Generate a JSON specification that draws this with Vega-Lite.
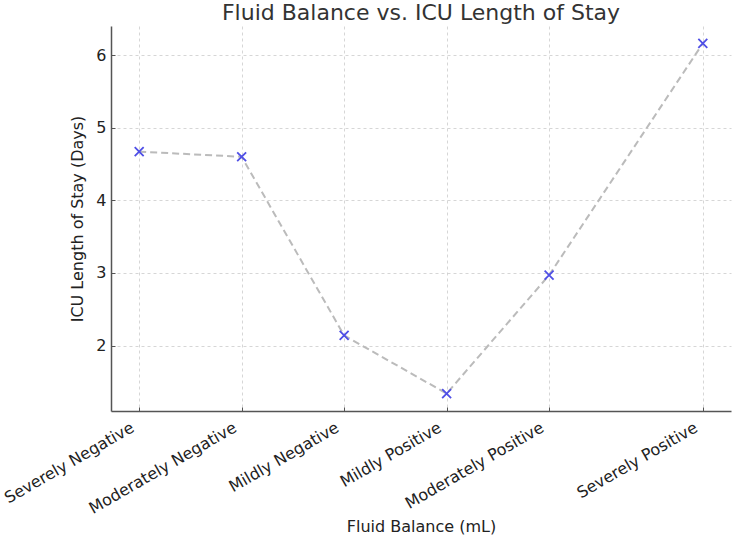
{
  "$schema": "https://vega.github.io/schema/vega-lite/v6.json",
  "width": 620,
  "height": 385,
  "autosize": {"type": "none"},
  "padding": {"left": 111, "top": 26, "right": 1, "bottom": 128},
  "background": "white",
  "config": {
    "view": {"stroke": null},
    "font": "DejaVu Sans",
    "axis": {
      "labelFont": "DejaVu Sans",
      "titleFont": "DejaVu Sans",
      "labelFontSize": 16,
      "titleFontSize": 16,
      "titleFontWeight": "normal",
      "labelColor": "#222222",
      "titleColor": "#222222",
      "domainColor": "#555555",
      "domainWidth": 1.5,
      "tickColor": "#555555",
      "tickWidth": 1,
      "gridColor": "#cccccc",
      "gridDash": [3, 3],
      "gridWidth": 0.8
    }
  },
  "title": {
    "text": "Fluid Balance vs. ICU Length of Stay",
    "font": "DejaVu Sans",
    "fontSize": 22,
    "fontWeight": "normal",
    "color": "#333333",
    "anchor": "middle",
    "offset": 1
  },
  "data": {
    "values": [
      {"category": "Severely Negative", "pos": 0, "los": 4.67},
      {"category": "Moderately Negative", "pos": 1, "los": 4.6},
      {"category": "Mildly Negative", "pos": 2, "los": 2.14},
      {"category": "Mildly Positive", "pos": 3, "los": 1.34},
      {"category": "Moderately Positive", "pos": 4, "los": 2.97},
      {"category": "Severely Positive", "pos": 5.5, "los": 6.16}
    ]
  },
  "encoding": {
    "x": {
      "field": "pos",
      "type": "quantitative",
      "scale": {"domain": [-0.275, 5.775], "nice": false, "zero": false},
      "axis": {
        "title": "Fluid Balance (mL)",
        "values": [0, 1, 2, 3, 4, 5.5],
        "labelExpr": "datum.value == 0 ? 'Severely Negative' : datum.value == 1 ? 'Moderately Negative' : datum.value == 2 ? 'Mildly Negative' : datum.value == 3 ? 'Mildly Positive' : datum.value == 4 ? 'Moderately Positive' : 'Severely Positive'",
        "labelAngle": -30,
        "labelAlign": "right",
        "labelBaseline": "top",
        "tickSize": -4,
        "labelPadding": 12,
        "labelOffset": -11,
        "titlePadding": 2,
        "labelFlush": false,
        "labelOverlap": false,
        "grid": true
      }
    },
    "y": {
      "field": "los",
      "type": "quantitative",
      "scale": {"domain": [1.1, 6.4], "nice": false, "zero": false},
      "axis": {
        "title": "ICU Length of Stay (Days)",
        "values": [2, 3, 4, 5, 6],
        "tickSize": -4,
        "labelPadding": 9,
        "titlePadding": 10,
        "grid": true
      }
    }
  },
  "layer": [
    {
      "mark": {"type": "line", "color": "#bbbbbb", "strokeWidth": 2, "strokeDash": [7, 4]}
    },
    {
      "mark": {
        "type": "point",
        "shape": "M-1,-1L1,1M-1,1L1,-1",
        "filled": false,
        "color": "#4f4fe6",
        "strokeWidth": 1.8,
        "size": 80,
        "opacity": 1
      }
    }
  ]
}
